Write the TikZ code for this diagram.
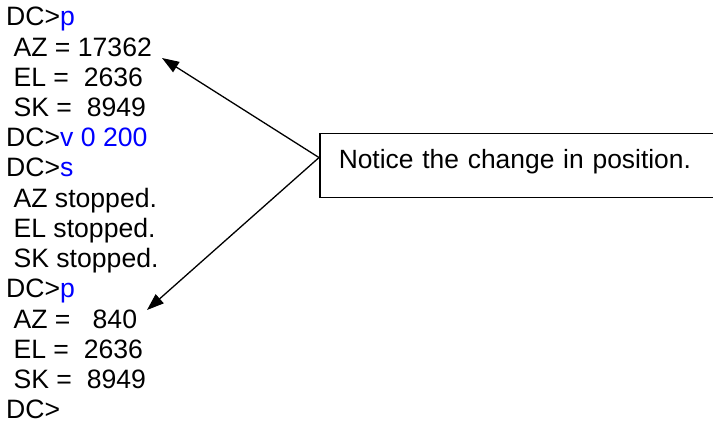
\documentclass[tikz,border=0pt]{standalone}
\usepackage{fontspec}
\setmainfont{Liberation Sans}
\usetikzlibrary{calc,arrows.meta}

\newcommand{\cmd}[1]{\textcolor{blue}{#1}}

\begin{document}
\begin{tikzpicture}[x=1pt,y=-1pt,
	logline/.style={anchor=base west,inner sep=0pt,font=\fontsize{26.6}{30}\selectfont},
	pointer/.style={line width=1.3pt,-{Triangle[length=17pt,width=12pt]}}]
\useasboundingbox (0,0) rectangle (713,425);

% console log, one node per line
\foreach \txt [count=\i] in {{DC>\cmd{p}},{\ AZ = 17362},{\ EL =\ \ 2636},{\ SK =\ \ 8949},
	{DC>\cmd{v 0 200}},{DC>\cmd{s}},{\ AZ stopped.},{\ EL stopped.},{\ SK stopped.},
	{DC>\cmd{p}},{\ AZ =\ \ \ 840},{\ EL =\ \ 2636},{\ SK =\ \ 8949},{DC>}}{
	\node[logline] (l\i) at (6,{26+(\i-1)*30.2}) {\txt};
}

% callout box
\node[draw,line width=1.5pt,anchor=north west,inner ysep=0pt,inner xsep=19pt,
	text height=35pt,text depth=29pt,text width=380pt,align=left,
	font=\fontsize{26.4}{30}\selectfont] (note) at (319,133) {Notice the change in position.};

\coordinate (apex) at ($(note.north west)!0.375!(note.south west)$);
\coordinate (tipa) at (162,58);
\coordinate (tipb) at (147,310);

% arrows
\draw[pointer] (apex)--(tipa);
\draw[pointer] (apex)--(tipb);

\end{tikzpicture}
\end{document}
